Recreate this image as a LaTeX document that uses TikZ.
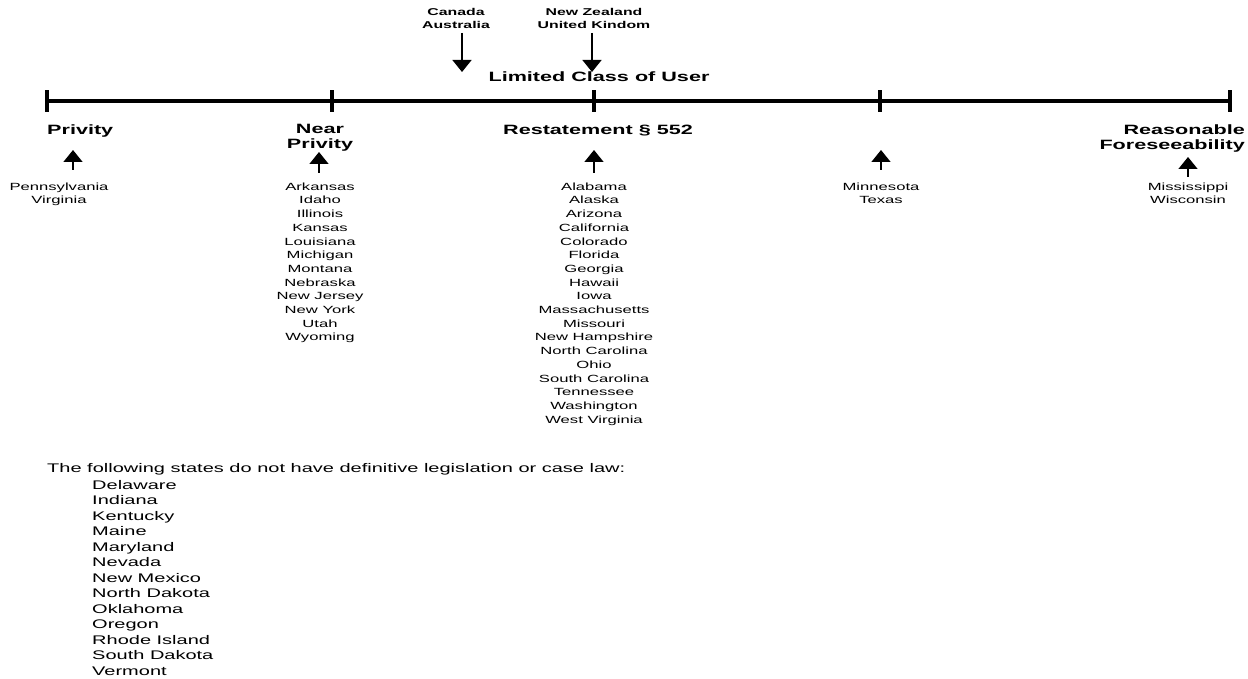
\documentclass[tikz,border=0pt]{standalone}
\usepackage{fontspec}
\setmainfont{Liberation Sans}[FakeStretch=1.6]
\usetikzlibrary{arrows.meta,calc}
\tikzset{
  axis/.style={line width=4pt},
  tickmark/.style={line width=4pt},
  lab/.style={font=\bfseries\fontsize{13.5}{15}\selectfont, align=center, inner sep=0pt},
  toplab/.style={font=\bfseries\fontsize{9.9}{12.5}\selectfont, align=center, inner sep=0pt},
  statelist/.style={font=\fontsize{10.4}{13.7}\selectfont, align=center, inner sep=0pt},
  note/.style={font=\fontsize{12.5}{15.5}\selectfont, align=left, inner sep=0pt},
  arr/.style={line width=1.5pt, -{Triangle[width=19pt,length=12pt]}},
}
\begin{document}
\begin{tikzpicture}[x=1pt,y=-1pt]
\useasboundingbox (0,0) rectangle (1248,679);
% timeline
\coordinate (t1) at (47,101);
\coordinate (t2) at (332,101);
\coordinate (t3) at (594,101);
\coordinate (t4) at (880,101);
\coordinate (t5) at (1230,101);
\draw[axis] (t1) -- (t5);
\foreach \t in {t1,t2,t3,t4,t5}
  \draw[tickmark] ($(\t)+(0,-10.5)$) -- ($(\t)+(0,11)$);
% top labels
\node[toplab, anchor=north] (can) at (456,8.5) {Canada\\Australia};
\node[toplab, anchor=north] (nz) at (594,8.5) {New Zealand\\United Kindom};
\coordinate (canA) at (462,33);
\coordinate (canB) at (462,72);
\coordinate (nzA) at (592,33);
\coordinate (nzB) at (592,72);
\draw[arr] (canA) -- (canB);
\draw[arr] (nzA) -- (nzB);
\node[lab, anchor=north] (lim) at (599,72) {Limited Class of User};
% category labels
\node[lab, anchor=north west] (priv) at (47,125) {Privity};
\node[lab, anchor=north] (near) at (320,124) {Near\\Privity};
\node[lab, anchor=north] (rest) at (598,125) {Restatement § 552};
\node[lab, anchor=north east, align=right] (reas) at (1245,125) {Reasonable\\Foreseeability};
% arrows up
\coordinate (pA) at (73,170);  \coordinate (pB) at (73,150);
\coordinate (nA) at (319,173); \coordinate (nB) at (319,152);
\coordinate (rA) at (594,173); \coordinate (rB) at (594,150);
\coordinate (mA) at (881,170); \coordinate (mB) at (881,150);
\coordinate (fA) at (1188,177);\coordinate (fB) at (1188,157);
\draw[arr] (pA) -- (pB);
\draw[arr] (nA) -- (nB);
\draw[arr] (rA) -- (rB);
\draw[arr] (mA) -- (mB);
\draw[arr] (fA) -- (fB);
% state lists
\node[statelist, anchor=north] (penn) at (59,182.5) {Pennsylvania\\Virginia};
\node[statelist, anchor=north] (nearlist) at (320,182.5) {Arkansas\\Idaho\\Illinois\\Kansas\\Louisiana\\Michigan\\Montana\\Nebraska\\New Jersey\\New York\\Utah\\Wyoming};
\node[statelist, anchor=north] (restlist) at (594,182.5) {Alabama\\Alaska\\Arizona\\California\\Colorado\\Florida\\Georgia\\Hawaii\\Iowa\\Massachusetts\\Missouri\\New Hampshire\\North Carolina\\Ohio\\South Carolina\\Tennessee\\Washington\\West Virginia};
\node[statelist, anchor=north] (minn) at (881,182.5) {Minnesota\\Texas};
\node[statelist, anchor=north] (miss) at (1188,182.5) {Mississippi\\Wisconsin};
% bottom note
\node[note, anchor=base west] (head) at (47,472.5) {The following states do not have definitive legislation or case law:};
\node[note, anchor=north west] (none) at (92,480) {Delaware\\Indiana\\Kentucky\\Maine\\Maryland\\Nevada\\New Mexico\\North Dakota\\Oklahoma\\Oregon\\Rhode Island\\South Dakota\\Vermont};
\end{tikzpicture}
\end{document}
